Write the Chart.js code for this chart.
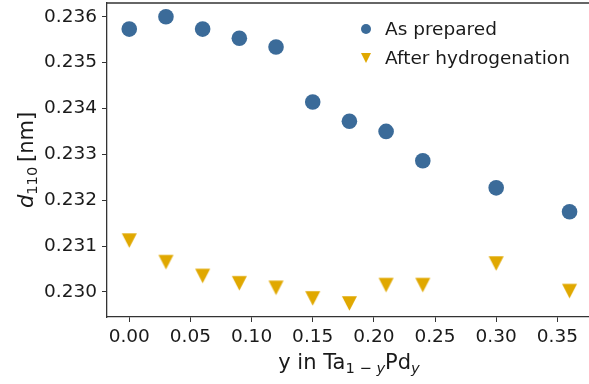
<!DOCTYPE html>
<html>
<head>
<meta charset="utf-8">
<script src="https://cdn.jsdelivr.net/npm/chart.js@4.4.0/dist/chart.umd.min.js"></script>
<style>
html, body { margin: 0; padding: 0; background: #fff; }
canvas { display: block; }
</style>
</head>
<body>
<canvas id="grafico" width="589" height="384"></canvas>
<script>
const composicion = [0.00, 0.03, 0.06, 0.09, 0.12, 0.15, 0.18, 0.21, 0.24, 0.30, 0.36];
const dPreparado = [0.23573, 0.23600, 0.23573, 0.23553, 0.23534, 0.23414, 0.23372, 0.23350, 0.23286, 0.23227, 0.23175];
const dHidrogenado = [0.23112, 0.23065, 0.23035, 0.23019, 0.23009, 0.22986, 0.22975, 0.23015, 0.23015, 0.23062, 0.23002];
const ticksX = [0.00, 0.05, 0.10, 0.15, 0.20, 0.25, 0.30, 0.35];
const ticksY = [0.230, 0.231, 0.232, 0.233, 0.234, 0.235, 0.236];
const etiquetas = ['As prepared', 'After hydrogenation'];

const AZUL = '#3b6b99';
const ORO = '#e0a800';
const EJE = '#333333';
const TEXTO = '#1a1a1a';
const FAMILIA = '"DejaVu Sans", sans-serif';

// triangulo hacia abajo, centrado en su caja como el marcador 'v' de matplotlib
function triangulo(w, h, color) {
    const c = document.createElement('canvas');
    c.width = Math.ceil(w) + 2;
    c.height = Math.ceil(h) + 2;
    const g = c.getContext('2d');
    const ox = (c.width - w) / 2, oy = (c.height - h) / 2;
    g.fillStyle = color;
    g.beginPath();
    g.moveTo(ox, oy);
    g.lineTo(ox + w, oy);
    g.lineTo(ox + w / 2, oy + h);
    g.closePath();
    g.fill();
    return c;
}

function fuente(p, tam) {
    const t = p.sub ? tam * 0.7 : tam;
    return (p.it ? 'italic ' : '') + t + 'px ' + FAMILIA;
}

function textoRico(ctx, partes, x, y, tam) {
    let total = 0;
    const anchos = partes.map(p => {
        ctx.font = fuente(p, tam);
        const w = ctx.measureText(p.t).width;
        total += w;
        return w;
    });
    let cx = x - total / 2;
    partes.forEach((p, i) => {
        ctx.font = fuente(p, tam);
        ctx.fillText(p.t, cx, y + (p.sub ? tam * 0.18 : 0));
        cx += anchos[i];
    });
}

const decoracion = {
    id: 'decoracion',
    afterDraw(chart) {
        const ctx = chart.ctx;
        const a = chart.chartArea;
        ctx.save();
        // borde superior
        ctx.strokeStyle = EJE;
        ctx.lineWidth = 1.3;
        ctx.beginPath();
        ctx.moveTo(a.left, a.top);
        ctx.lineTo(a.right, a.top);
        ctx.stroke();

        ctx.fillStyle = TEXTO;
        ctx.textBaseline = 'alphabetic';
        textoRico(ctx, [
            { t: 'y in Ta' }, { t: '1 \u2212 ', sub: true }, { t: 'y', sub: true, it: true },
            { t: 'Pd' }, { t: 'y', sub: true, it: true }
        ], (a.left + a.right) / 2 + 1, 369, 21);

        ctx.save();
        ctx.translate(33, (a.top + a.bottom) / 2);
        ctx.rotate(-Math.PI / 2);
        textoRico(ctx, [{ t: 'd', it: true }, { t: '110 ', sub: true }, { t: '[nm]' }], 0, 0, 21);
        ctx.restore();

        // leyenda
        ctx.font = '18.5px ' + FAMILIA;
        ctx.textBaseline = 'middle';
        etiquetas.forEach((txt, i) => {
            const y = 29 + i * 29;
            if (i === 0) {
                ctx.fillStyle = AZUL;
                ctx.beginPath();
                ctx.arc(366, y, 5, 0, Math.PI * 2);
                ctx.fill();
            } else {
                const m = triangulo(10, 10, ORO);
                ctx.drawImage(m, 366 - m.width / 2, y - m.height / 2);
            }
            ctx.fillStyle = TEXTO;
            ctx.fillText(txt, 385, y + 1);
        });
        ctx.restore();
    }
};

const ejeComun = {
    type: 'linear',
    grid: { display: true, drawOnChartArea: false, drawTicks: true, tickLength: 5, tickColor: EJE, tickWidth: 1 },
    border: { display: true, color: EJE, width: 1.3 }
};

new Chart(document.getElementById('grafico'), {
    type: 'scatter',
    data: {
        datasets: [
            {
                label: etiquetas[0],
                data: composicion.map((x, i) => ({ x: x, y: dPreparado[i] })),
                pointStyle: 'circle',
                pointRadius: 7.8,
                backgroundColor: AZUL,
                borderWidth: 0
            },
            {
                label: etiquetas[1],
                data: composicion.map((x, i) => ({ x: x, y: dHidrogenado[i] })),
                pointStyle: triangulo(15, 14.5, ORO),
                pointRadius: 8,
                backgroundColor: ORO,
                borderWidth: 0
            }
        ]
    },
    options: {
        responsive: false,
        animation: false,
        layout: { autoPadding: false, padding: { top: 3, right: 0, left: 0, bottom: 0 } },
        plugins: { legend: { display: false }, tooltip: { enabled: false } },
        scales: {
            x: {
                ...ejeComun,
                min: -0.0182,
                max: 0.3759,
                afterBuildTicks: s => { s.ticks = ticksX.map(v => ({ value: v })); },
                afterFit: s => { s.height = 67; s.paddingLeft = 0; s.paddingRight = 0; },
                ticks: {
                    padding: 4, color: TEXTO, autoSkip: false, maxRotation: 0,
                    font: { family: FAMILIA, size: 18.5 },
                    callback: v => v.toFixed(2)
                }
            },
            y: {
                ...ejeComun,
                min: 0.229455,
                max: 0.236299,
                afterBuildTicks: s => { s.ticks = ticksY.map(v => ({ value: v })); },
                afterFit: s => { s.width = 107; s.paddingTop = 0; s.paddingBottom = 0; },
                ticks: {
                    padding: 5, color: TEXTO,
                    font: { family: FAMILIA, size: 18.5 },
                    callback: v => v.toFixed(3)
                }
            }
        }
    },
    plugins: [decoracion]
});
</script>
</body>
</html>
